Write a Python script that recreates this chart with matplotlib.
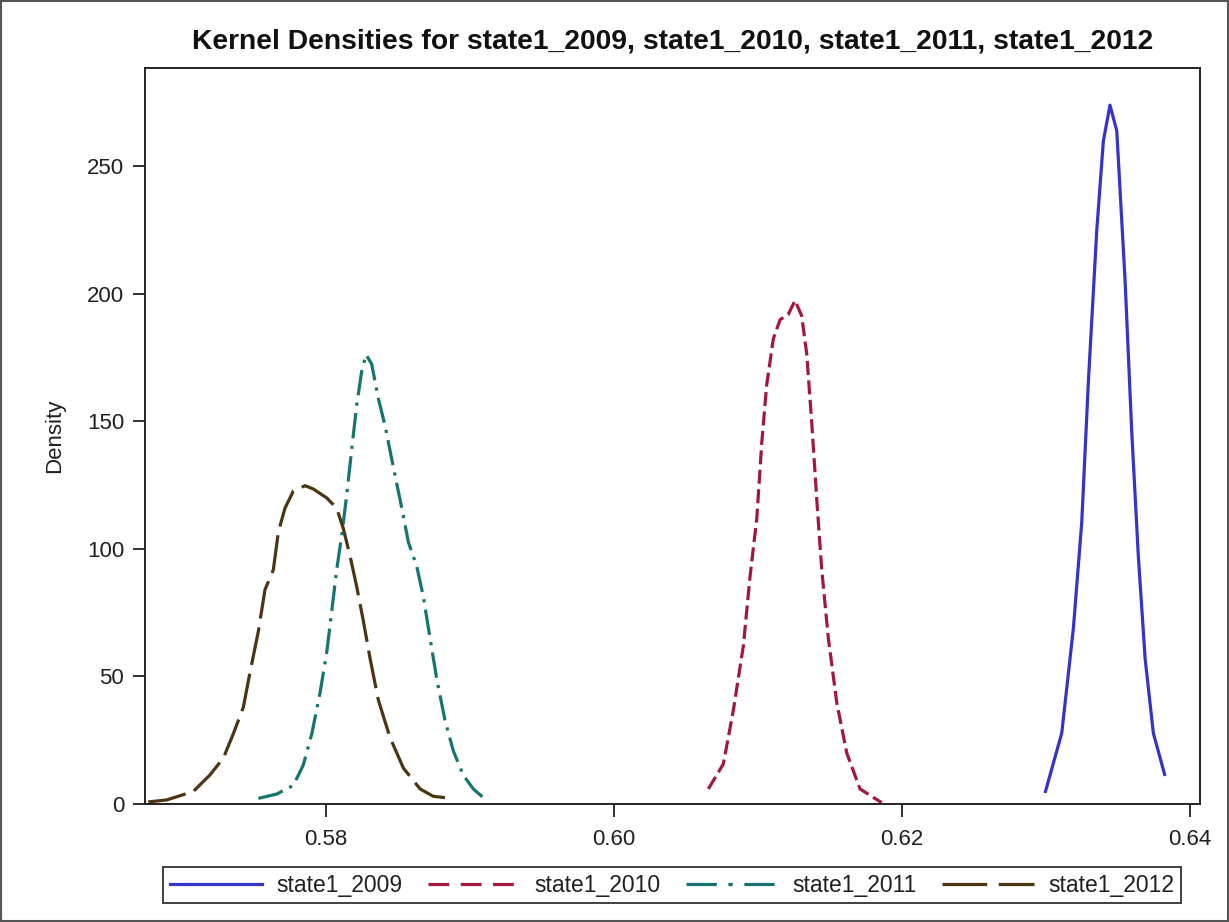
import matplotlib
matplotlib.use("Agg")
import matplotlib.pyplot as plt
from matplotlib.patches import Rectangle
from matplotlib.lines import Line2D

# ---------------- data ----------------
title = "Kernel Densities for state1_2009, state1_2010, state1_2011, state1_2012"
series_names = ["state1_2009", "state1_2010", "state1_2011", "state1_2012"]

x_2009 = [0.62993, 0.63109, 0.63190, 0.63248, 0.63294, 0.63352, 0.63398, 0.63444,
          0.63491, 0.63549, 0.63595, 0.63641, 0.63688, 0.63745, 0.63826]
y_2009 = [4.3, 27.8, 69, 110.6, 165.7, 224.8, 260, 274,
          264, 205, 146, 97, 57, 27.8, 11]

x_2010 = [0.60655, 0.60759, 0.60828, 0.60898, 0.60944, 0.60991, 0.61026, 0.61060,
          0.61106, 0.61153, 0.61210, 0.61257, 0.61303, 0.61338, 0.61373, 0.61408,
          0.61442, 0.61488, 0.61547, 0.61616, 0.61708, 0.61859]
y_2010 = [5.9, 15.7, 36.6, 62, 89, 111.8, 141.8, 164.3,
          182.4, 189.9, 192, 197.4, 191.4, 176.5, 149.4, 119.2,
          92, 65, 39.6, 20, 5.9, 0.5]

x_2011 = [0.57530, 0.57658, 0.57773, 0.57842, 0.57901, 0.57958, 0.58005, 0.58040,
          0.58074, 0.58109, 0.58144, 0.58178, 0.58213, 0.58248, 0.58278, 0.58317,
          0.58363, 0.58410, 0.58467, 0.58526, 0.58572, 0.58630, 0.58676, 0.58722,
          0.58769, 0.58826, 0.58884, 0.58953, 0.59023, 0.59092]
y_2011 = [2.2, 3.9, 7.3, 15.3, 27.5, 43.5, 59.6, 75.8,
          91.9, 105.3, 121.4, 138.9, 156.4, 169.8, 176.2, 172.5,
          159, 148.3, 132.2, 116, 102.6, 93.2, 81.2, 65.1,
          49, 32.8, 20.8, 11.3, 5.9, 2.5]

x_2012 = [0.56766, 0.56894, 0.57078, 0.57194, 0.57287, 0.57356, 0.57426, 0.57472,
          0.57530, 0.57576, 0.57634, 0.57669, 0.57715, 0.57773, 0.57854, 0.57912,
          0.58005, 0.58074, 0.58120, 0.58167, 0.58213, 0.58259, 0.58306, 0.58363,
          0.58444, 0.58537, 0.58653, 0.58745, 0.58826]
y_2012 = [0.8, 1.6, 4.9, 11.4, 18, 27.5, 38, 51.6,
          67.7, 84, 91.8, 106.7, 116, 122.7, 124.8, 123.5,
          120, 116, 108, 97.2, 85.2, 71.8, 57, 40.8,
          26.1, 14.1, 5.9, 3, 2.5]

x_ticks = [0.58, 0.60, 0.62, 0.64]
y_ticks = [0, 50, 100, 150, 200, 250]

# ---------------- styling ----------------
colors = ["#3434C8", "#A3173F", "#17756F", "#4B3512"]
lw = 2.3
curve_styles = [
    "-",
    (0, (4.4, 1.7)),
    (0, (8, 2.3, 1.0, 2.3)),
    (0, (12, 2.8)),
]
legend_styles = [
    "-",
    (0, (6.5, 3.6)),
    (0, (9.5, 3.6, 1.4, 3.6)),
    (0, (14, 3.6)),
]

fig = plt.figure(figsize=(12.29, 9.22), dpi=100)
ax = fig.add_axes([0.118, 0.128, 0.8584, 0.7983])

data = [(x_2009, y_2009), (x_2010, y_2010), (x_2011, y_2011), (x_2012, y_2012)]
for (xs, ys), name, c, ls in zip(data, series_names, colors, curve_styles):
    ax.plot(xs, ys, color=c, lw=lw, linestyle=ls, label=name,
            solid_capstyle="butt", dash_capstyle="butt", solid_joinstyle="round")

ax.set_xlim(0.56743, 0.64069)
ax.set_ylim(0, 288.6)
ax.set_xticks(x_ticks)
ax.set_xticklabels([f"{v:.2f}" for v in x_ticks])
ax.set_yticks(y_ticks)
ax.set_yticklabels([str(v) for v in y_ticks])

sans = ["Liberation Sans", "DejaVu Sans"]
for lab in ax.get_xticklabels() + ax.get_yticklabels():
    lab.set_fontfamily(sans)
    lab.set_fontsize(16)
    lab.set_color("#202020")

ax.tick_params(axis="both", direction="out", length=9, width=1.3, color="#222222")
ax.tick_params(axis="x", pad=9)
ax.tick_params(axis="y", pad=6)
for sp in ax.spines.values():
    sp.set_linewidth(1.4)
    sp.set_color("#222222")

ax.set_ylabel("Density", fontsize=16, family=sans, color="#202020", labelpad=16)
fig.text(0.5476, 0.9547, title, ha="center", va="center",
         fontsize=20.3, fontweight="bold", family=sans, color="#111111")

handles = [Line2D([], [], color=c, lw=lw, linestyle=ls, dash_capstyle="butt")
           for c, ls in zip(colors, legend_styles)]
leg = fig.legend(handles, series_names, loc="center", bbox_to_anchor=(0.547, 0.040),
                 ncol=4, frameon=True, fancybox=False, shadow=False,
                 prop={"family": sans, "size": 16.5},
                 handlelength=4.0, handletextpad=0.65, columnspacing=1.1,
                 borderpad=0.3, borderaxespad=0)
leg.get_frame().set_edgecolor("#111111")
leg.get_frame().set_linewidth(1.4)
for t in leg.get_texts():
    t.set_color("#202020")

# figure frame
fig.patches.append(Rectangle((0.001, 0.001), 0.998, 0.998, transform=fig.transFigure,
                             fill=False, edgecolor="#555555", lw=1.5))

fig.savefig("out.png", dpi=100)
